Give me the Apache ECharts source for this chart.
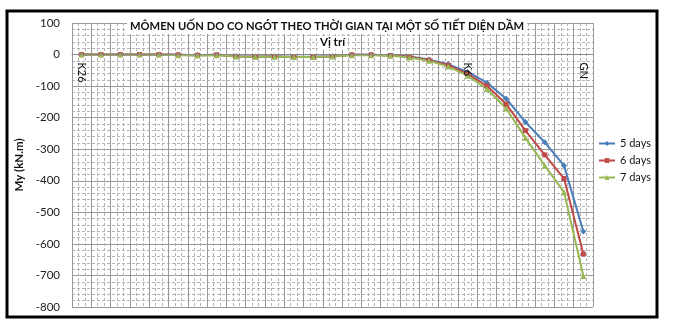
<!DOCTYPE html>
<html><head><meta charset="utf-8">
<script src="https://cdn.jsdelivr.net/npm/echarts@6/dist/echarts.min.js"></script>
<style>html,body{margin:0;padding:0;background:#fff}#c{width:680px;height:328px}</style>
</head><body><div id="c"></div>
<script>
var categories = ['K26','K25','K24','K23','K22','K21','K20','K19','K18','K17','K16','K15','K14','K13','K12','K11','K10','K9','K8','K7','K6','K5','K4','K3','K2','K1','GN'];
var shownLabels = ['K26','K6','GN'];
var days5 = [0,0,0,0,0,-1,-2,-1,-5,-6,-6,-7,-7,-5,-1,-1,-3,-6,-16,-31,-55,-89,-140,-214,-278,-352,-561];
var days6 = [0,0,0,0,0,-1,-2,-1,-6,-7,-6,-8,-8,-6,-1,-1,-3,-7,-18,-34,-61,-99,-157,-241,-318,-393,-632];
var days7 = [0,0,0,0,0,-2,-3,-2,-6,-7,-7,-8,-8,-6,-2,-2,-4,-9,-20,-38,-67,-109,-171,-264,-352,-436,-702];
var seriesNames = ['5 days','6 days','7 days'];
var yTicks = {min:-800, max:100, step:100};

var FONT = 'Lato, "Open Sans", sans-serif';
var GRID = {left:72, right:87, top:23, bottom:21};
var plotH = 328 - GRID.top - GRID.bottom;
var zeroOffset = -plotH * (yTicks.max - 0) / (yTicks.max - yTicks.min);
var chart = echarts.init(document.getElementById('c'), null, {renderer:'canvas'});
function mk(name, data, color, symbol, size){
  return {name:name, type:'line', data:data, xAxisIndex:0, symbol:symbol, symbolSize:size,
    showSymbol:true, lineStyle:{width:2, color:color}, itemStyle:{color:color}, animation:false, z:2};
}
chart.setOption({
  animation:false,
  backgroundColor:'#fff',
  title:{text:'MÔMEN UỐN DO CO NGÓT THEO THỜI GIAN TẠI MỘT SỐ TIẾT DIỆN DẦM', left:127, top:20,
    padding:[1,3,2,3], backgroundColor:'#fff',
    textStyle:{fontFamily:FONT, fontSize:11.2, fontWeight:'bold', color:'#111'}},
  legend:{orient:'vertical', left:598, top:138, itemGap:6, itemWidth:16, itemHeight:6,
    data:seriesNames, textStyle:{fontFamily:FONT, fontSize:11, color:'#111'}, padding:[0,0,0,0]},
  grid:{left:GRID.left, right:GRID.right, top:GRID.top, bottom:GRID.bottom, containLabel:false, outerBoundsMode:'none'},
  xAxis:[{
    type:'category', data:categories, boundaryGap:true, position:'top', offset:zeroOffset,
    name:'Vị trí', nameLocation:'middle', nameGap:4,
    nameTextStyle:{fontFamily:FONT, fontSize:11.5, fontWeight:'bold', color:'#111', backgroundColor:'#fff', padding:[1,2]},
    axisLine:{onZero:false, lineStyle:{color:'#888', width:1}},
    axisTick:{show:false},
    axisLabel:{rotate:90, inside:true, margin:8, fontFamily:FONT, fontSize:11, color:'#111',
      interval:function(i, v){return shownLabels.indexOf(v) >= 0;}},
    splitLine:{show:false}, z:8
  },{
    type:'value', min:0, max:categories.length, interval:1, show:true, position:'bottom',
    axisLine:{show:false, onZero:false}, axisTick:{show:false}, axisLabel:{show:false},
    splitLine:{show:true, lineStyle:{color:'#999', width:1}},
    minorSplitLine:{show:true, lineStyle:{color:'#b4b4b4', width:1, type:[3,2]}},
    minorTick:{show:false, splitNumber:3}, z:0
  }],
  yAxis:{
    type:'value', min:yTicks.min, max:yTicks.max, interval:yTicks.step,
    name:'My (kN.m)', nameLocation:'middle', nameGap:36,
    nameTextStyle:{fontFamily:FONT, fontSize:11.5, fontWeight:'bold', color:'#111'},
    axisLine:{show:false}, axisTick:{show:false},
    axisLabel:{margin:12, fontFamily:FONT, fontSize:11.5, color:'#222'},
    splitLine:{show:true, lineStyle:{color:'#999', width:1}},
    minorTick:{show:false, splitNumber:5},
    minorSplitLine:{show:true, lineStyle:{color:'#b4b4b4', width:1, type:[3,2]}}, z:0
  },
  graphic:[{type:'rect', shape:{x:7, y:11, width:650, height:306}, style:{fill:'none', stroke:'#000', lineWidth:3}, z:10}],
  series:[
    mk(seriesNames[0], days5, '#4A7EBB', 'diamond', 6),
    mk(seriesNames[1], days6, '#BE4B48', 'rect', 5),
    mk(seriesNames[2], days7, '#98B954', 'triangle', 6)
  ]
});
</script></body></html>
